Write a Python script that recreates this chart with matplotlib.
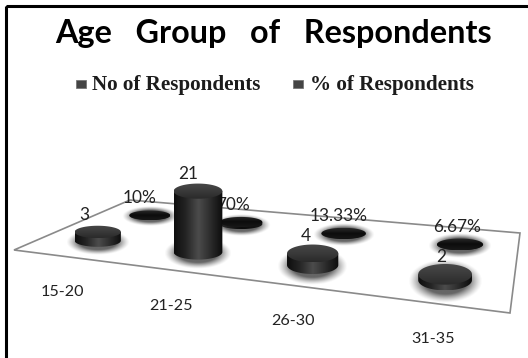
import numpy as np
import matplotlib
matplotlib.use('Agg')
import matplotlib.pyplot as plt
from matplotlib.colors import LinearSegmentedColormap
from matplotlib.patches import Polygon, Rectangle

age_groups = ['15-20', '21-25', '26-30', '31-35']
no_of_respondents = [3, 21, 4, 2]
pct_of_respondents = [0.10, 0.70, 0.1333, 0.0667]
pct_labels = ['10%', '70%', '13.33%', '6.67%']
legend_names = ['No of Respondents', '% of Respondents']
chart_title = 'Age   Group   of   Respondents'

# floor corners in pixels: front left, front right, back right, back left
floor = [(14, 250), (510, 313), (520, 233), (130, 200)]
px_per_unit = 2.9


def floor_matrix(corners):
    # plane homography from the unit square to the screen
    src = [(0, 0), (1, 0), (1, 1), (0, 1)]
    A, b = [], []
    for (u, v), (x, y) in zip(src, corners):
        A.append([u, v, 1, 0, 0, 0, -u * x, -v * x])
        A.append([0, 0, 0, u, v, 1, -u * y, -v * y])
        b += [x, y]
    h = np.linalg.solve(np.array(A, float), np.array(b, float))
    return np.append(h, 1).reshape(3, 3)


H = floor_matrix(floor)


def project(u, v):
    p = H @ np.array([u, v, 1.0])
    return p[0] / p[2], p[1] / p[2]


side_cmap = LinearSegmentedColormap.from_list('side', ['#0e0e0e', '#262626', '#4c4c4c', '#2c2c2c', '#0c0c0c'])
top_cmap = LinearSegmentedColormap.from_list('top', ['#484848', '#3a3a3a', '#2a2a2a'])
dark_cmap = LinearSegmentedColormap.from_list('dark', ['#2a2a2a', '#0c0c0c', '#181818'])


def fill_gradient(ax, verts, cmap, horizontal, zorder):
    # gradient image clipped to the polygon
    xs, ys = verts[:, 0], verts[:, 1]
    grad = np.linspace(0, 1, 64)
    img = grad[None, :] if horizontal else grad[:, None]
    im = ax.imshow(img, cmap=cmap, extent=(xs.min(), xs.max(), ys.max(), ys.min()),
                   aspect='auto', zorder=zorder, interpolation='bilinear')
    patch = Polygon(verts, closed=True, transform=ax.transData, fc='none', ec='none')
    ax.add_patch(patch)
    im.set_clip_path(patch)


def draw_shadow(ax, x, y, rx, ry, zorder):
    yy, xx = np.mgrid[-1:1:80j, -1:1:80j]
    d = np.sqrt(xx ** 2 + yy ** 2)
    rgba = np.zeros((80, 80, 4))
    rgba[..., :3] = 0.25
    rgba[..., 3] = 0.8 * np.clip((1 - d) / 0.4, 0, 1) ** 1.3
    ax.imshow(rgba, extent=(x - rx, x + rx, y + ry, y - ry), aspect='auto', zorder=zorder)


def draw_cylinder(ax, cx, cy, value, rx, ry, zorder, flat=False):
    t = np.linspace(0, 2 * np.pi, 120)
    h = value * px_per_unit
    draw_shadow(ax, cx, cy + 1, rx * 1.38, ry * 2.1, zorder)
    top = np.column_stack([cx + rx * np.cos(t), cy - h + ry * np.sin(t)])
    # side wall: front half of the base ellipse swept up to the top
    s = np.linspace(0, np.pi, 60)
    wall = np.column_stack([cx + rx * np.cos(s), cy + ry * np.sin(s)])
    wall = np.vstack([[cx + rx, cy - h], wall, [cx - rx, cy - h]])
    fill_gradient(ax, wall, dark_cmap if flat else side_cmap, True, zorder + 0.1)
    fill_gradient(ax, top, dark_cmap if flat else top_cmap, False, zorder + 0.2)
    return cy - h


fig = plt.figure(figsize=(5.28, 3.58), dpi=100)
ax = fig.add_axes([0, 0, 1, 1])

# floor of the 3d chart
ax.add_patch(Polygon(floor, closed=True, fc='white', ec='#8a8a8a', lw=1.2, zorder=1))

u_pos = (np.arange(len(age_groups)) + 0.5) / len(age_groups)

# back row first so the tall front cylinder hides part of the 70% label
z = 2
for i, val in enumerate(pct_of_respondents):
    u = u_pos[i]
    cx, cy = project(u + 0.012, 0.73)
    top_y = draw_cylinder(ax, cx, cy, val, 20 + 3.5 * u, 4.5 + 1.5 * u, z, flat=True)
    ax.text(cx - 11 + 9 * u, top_y - 17, pct_labels[i], ha='center', va='center',
            family='Lato', fontsize=12.4, color='#222222', zorder=z + 0.5)
    z += 1

for i, val in enumerate(no_of_respondents):
    u = u_pos[i]
    cx, cy = project(u + 0.01, 0.25)
    top_y = draw_cylinder(ax, cx, cy, val, 22.5 + 5 * u, 5.5 + 5.5 * u, z)
    ax.text(cx - 15 + 13 * u, top_y - 17, str(val), ha='center', va='center',
            family='Lato', fontsize=12.4, color='#222222', zorder=30)
    # category label hangs below the front row
    ax.text(cx - 39 + 31 * u, cy + 50 + 10 * u, age_groups[i], ha='center', va='center',
            family='Lato', fontsize=11.6, color='#222222', zorder=30)
    z += 1

ax.text(273, 34, chart_title, ha='center', va='center', family='Lato', weight='bold', fontsize=23.3, color='black')

for name, x0 in zip(legend_names, (76, 293)):
    ax.add_patch(Rectangle((x0, 80), 10, 8, fc='#444444', ec='#777777', lw=0.6))
    ax.text(x0 + 16.5, 85, name, ha='left', va='center', family='Liberation Serif', weight='bold',
            fontsize=15.2, color='#1c1c1c')

# outer frame runs off the right and bottom of the image
ax.add_patch(Rectangle((6, 6), 560, 400, fc='none', ec='black', lw=2.2, zorder=40))

ax.set_xlim(0, 528)
ax.set_ylim(358, 0)
ax.axis('off')
fig.savefig('out.png', dpi=100)
